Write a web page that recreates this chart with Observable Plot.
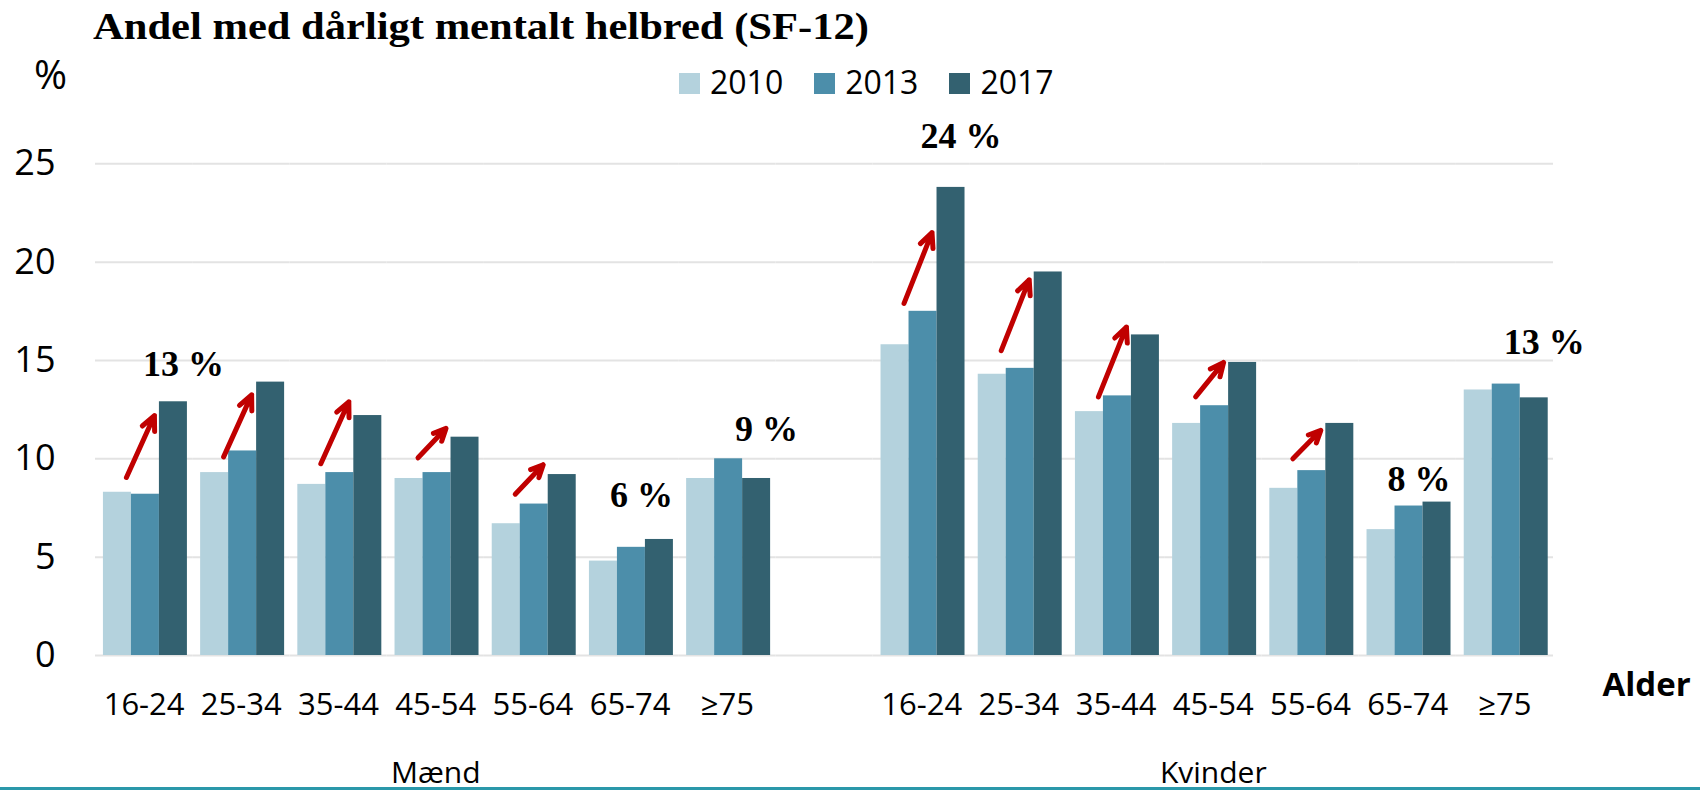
<!DOCTYPE html>
<html>
<head>
<meta charset="utf-8">
<script src="https://cdn.jsdelivr.net/npm/d3@7"></script>
<script src="https://cdn.jsdelivr.net/npm/@observablehq/plot@0.6"></script>
<style>
  body { margin: 0; background: #fff; }
  #wrap { position: relative; width: 1700px; height: 790px; overflow: hidden; font-family: "Open Sans", sans-serif; color: #000; }
  #header { position: relative; height: 100px; }
  #title { position: absolute; left: 93px; top: 7px; font-family: "Liberation Serif", "Times New Roman", serif; font-weight: bold; font-size: 38px; line-height: 1; white-space: nowrap; transform: scaleX(1.12); transform-origin: 0 0; }
  #ylab { position: absolute; left: 34px; top: 53.5px; font-size: 40px; line-height: 1; }
  #legend { position: absolute; left: 679px; top: 65.6px; height: 32px; display: flex; align-items: flex-start; }
  .sw { width: 21px; height: 21px; margin-top: 7.4px; margin-right: 10px; }
  .lt { font-size: 32px; line-height: 32px; margin-right: 31px; }
  #bottomline { position: absolute; left: 0; top: 787px; width: 1700px; height: 3px; background: #2a98aa; }
</style>
</head>
<body>
<div id="wrap">
  <div id="header">
    <div id="title">Andel med dårligt mentalt helbred (SF-12)</div>
    <div id="ylab">%</div>
    <div id="legend"></div>
  </div>
  <div id="chart"></div>
  <div id="bottomline"></div>
</div>
<script>
// ---- data ----
const sexes = ["Mænd", "Kvinder"];
const ages = ["16-24", "25-34", "35-44", "45-54", "55-64", "65-74", "≥75"];
const years = ["2010", "2013", "2017"];
const colors = ["#b4d2dd", "#4c8eaa", "#336170"];

const maend2010 = [8.3, 9.3, 8.7, 9.0, 6.7, 4.8, 9.0];
const maend2013 = [8.2, 10.4, 9.3, 9.3, 7.7, 5.5, 10.0];
const maend2017 = [12.9, 13.9, 12.2, 11.1, 9.2, 5.9, 9.0];
const kvinder2010 = [15.8, 14.3, 12.4, 11.8, 8.5, 6.4, 13.5];
const kvinder2013 = [17.5, 14.6, 13.2, 12.7, 9.4, 7.6, 13.8];
const kvinder2017 = [23.8, 19.5, 16.3, 14.9, 11.8, 7.8, 13.1];

const yTicks = [0, 5, 10, 15, 20, 25];

// value labels (text, the bar they stand over, and the level of their baseline)
const labelSex = ["Mænd", "Mænd", "Mænd", "Kvinder", "Kvinder", "Kvinder"];
const labelAge = ["16-24", "65-74", "≥75", "16-24", "65-74", "≥75"];
const labelBar = ["2017", "2013", "2017", "2017", "2013", "2017"];
const labelText = ["13 %", "6 %", "9 %", "24 %", "8 %", "13 %"];
const labelLevel = [14.2, 7.55, 10.9, 25.8, 8.35, 15.35];

// red arrows (start and end level)
const arrowSex = ["Mænd", "Mænd", "Mænd", "Mænd", "Mænd", "Kvinder", "Kvinder", "Kvinder", "Kvinder", "Kvinder"];
const arrowAge = ["16-24", "25-34", "35-44", "45-54", "55-64", "16-24", "25-34", "35-44", "45-54", "55-64"];
const arrowFrom = [9.05, 10.1, 9.75, 10.05, 8.2, 17.9, 15.5, 13.15, 13.15, 10.0];
const arrowTo = [12.2, 13.25, 12.9, 11.55, 9.7, 21.5, 19.1, 16.7, 14.9, 11.45];

// ---- build tables ----
const key = (s, a) => s + "|" + a;
const fxDomain = [...ages.map(a => key("Mænd", a)), "gap", ...ages.map(a => key("Kvinder", a))];
const values = {
  "Mænd": [maend2010, maend2013, maend2017],
  "Kvinder": [kvinder2010, kvinder2013, kvinder2017]
};
const rows = [];
for (const s of sexes) {
  ages.forEach((a, i) => {
    years.forEach((y, j) => rows.push({key: key(s, a), sex: s, age: a, year: y, value: values[s][j][i]}));
  });
}
const gridRows = fxDomain.flatMap(k => yTicks.map(t => ({key: k, t})));
const labels = labelText.map((t, i) => ({key: key(labelSex[i], labelAge[i]), bar: labelBar[i], text: t, level: labelLevel[i]}));
const arrows = arrowFrom.map((f, i) => ({key: key(arrowSex[i], arrowAge[i]), from: f, to: arrowTo[i]}));
const groupLabels = [
  {key: key("Mænd", "45-54"), text: "Mænd"},
  {key: key("Kvinder", "45-54"), text: "Kvinder"}
];

// ---- legend ----
const legend = document.getElementById("legend");
years.forEach((y, i) => {
  const sw = document.createElement("div");
  sw.className = "sw";
  sw.style.background = colors[i];
  const t = document.createElement("div");
  t.className = "lt";
  t.textContent = y;
  legend.appendChild(sw);
  legend.appendChild(t);
});

// ---- chart ----
const chart = Plot.plot({
  width: 1700,
  height: 690,
  marginLeft: 95,
  marginRight: 147,
  marginTop: 63.3,
  marginBottom: 135,
  style: {fontFamily: "'Open Sans', sans-serif", color: "#000", background: "transparent", overflow: "visible"},
  fx: {domain: fxDomain, paddingInner: 0, paddingOuter: 0, round: false, label: null},
  x: {domain: years, paddingInner: 0, paddingOuter: 0.236, align: 0.6, round: false, axis: null},
  y: {domain: [0, 25], label: null},
  color: {domain: years, range: colors},
  marks: [
    Plot.ruleY(gridRows, {fx: "key", y: "t", stroke: "#e3e3e3", strokeWidth: 2}),
    Plot.barY(rows, {fx: "key", x: "year", y: "value", fill: "year"}),
    Plot.arrow(arrows, {
      fx: "key", x1: () => "2010", x2: () => "2013", y1: "from", y2: "to",
      stroke: "#c00000", strokeWidth: 5, headLength: 4.8, headAngle: 50, dx: 9
    }),
    Plot.text(labels, {
      fx: "key", x: "bar", y: "level", text: "text", lineAnchor: "bottom", dx: 10,
      fontFamily: "'Liberation Serif', 'Times New Roman', serif", fontWeight: "bold", fontSize: 36, fill: "#000"
    }),
    Plot.text(groupLabels, {
      fx: "key", text: "text", frameAnchor: "bottom", lineAnchor: "bottom", dy: 127, fontSize: 30, fill: "#000"
    }),
    Plot.text([{key: key("Kvinder", "≥75"), text: "Alder"}], {
      fx: "key", text: "text", frameAnchor: "bottom-right", textAnchor: "start", lineAnchor: "bottom",
      dx: 49, dy: 40, fontSize: 33, fontWeight: "bold", fill: "#000"
    }),
    Plot.axisY({ticks: yTicks, tickSize: 0, tickPadding: 40, fontSize: 36, label: null}),
    Plot.axisFx({
      anchor: "bottom", tickSize: 0, tickPadding: 37, fontSize: 31, label: null,
      tickFormat: k => k === "gap" ? "" : k.split("|")[1]
    })
  ]
});
document.getElementById("chart").appendChild(chart);
</script>
</body>
</html>
